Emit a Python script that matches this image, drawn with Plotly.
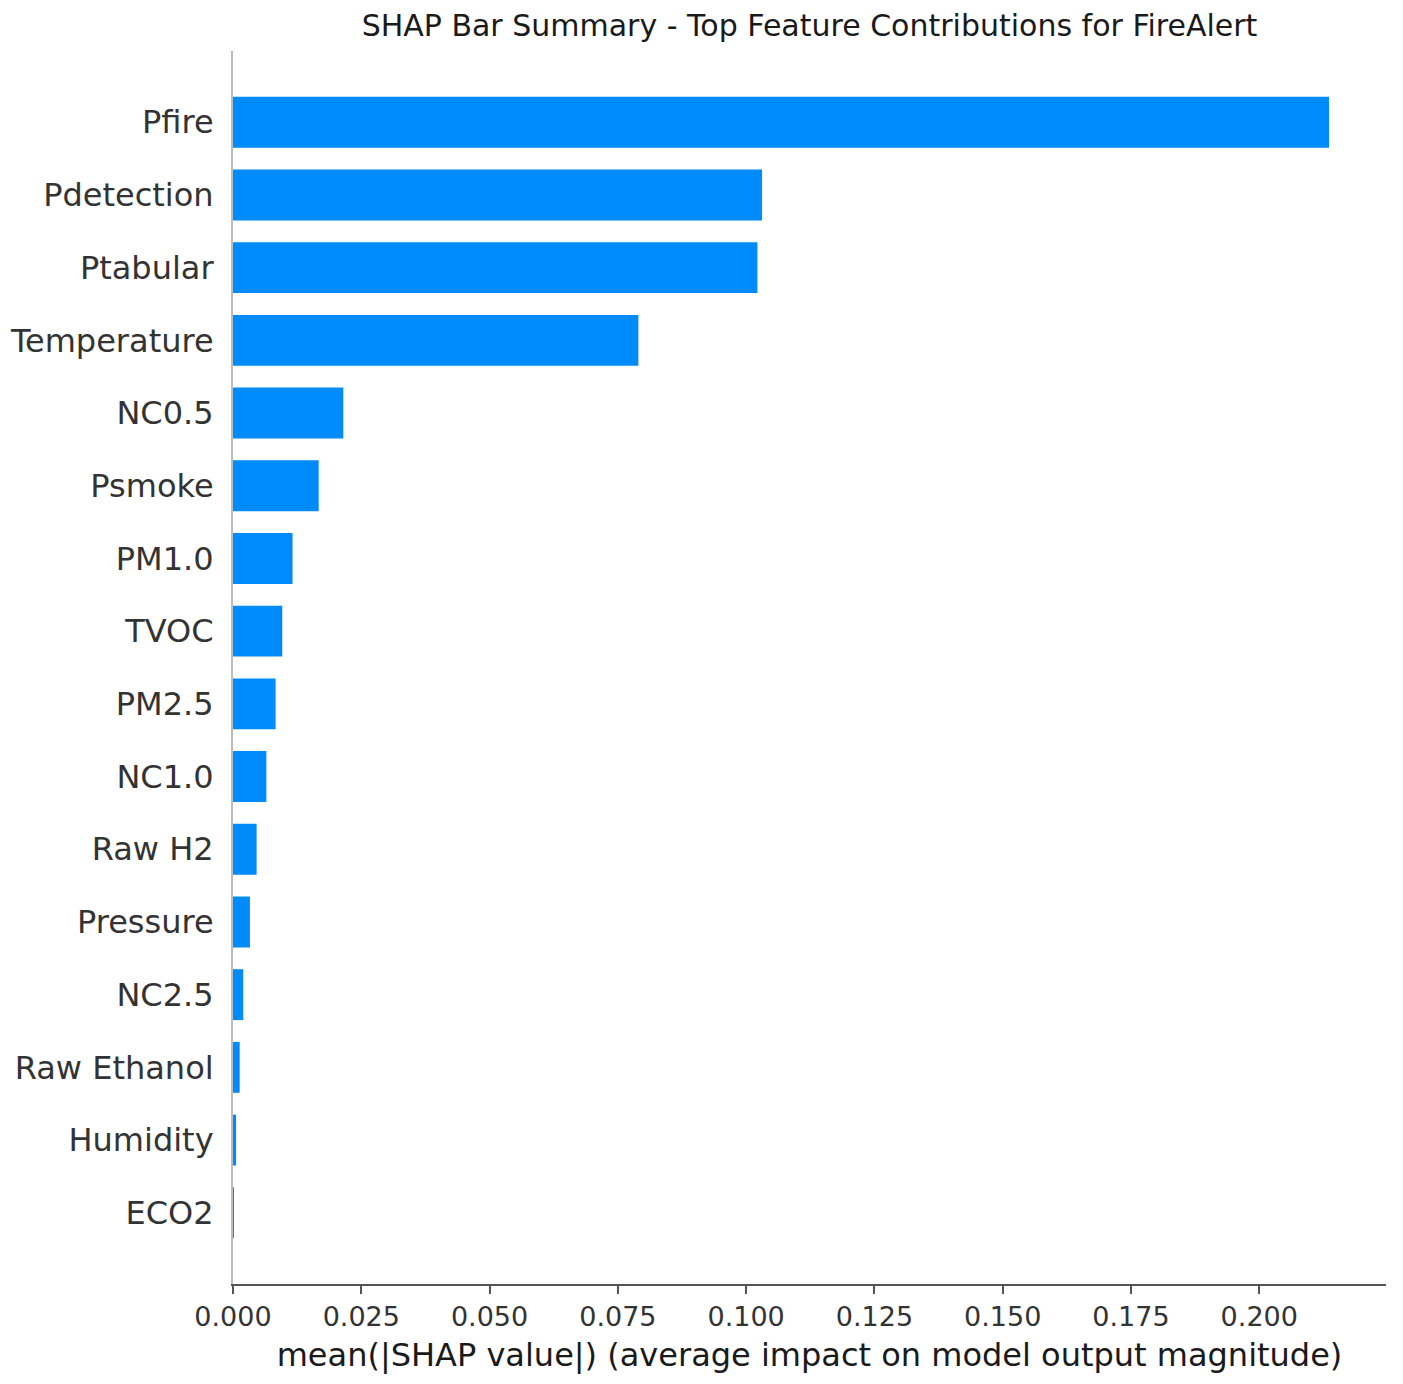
import plotly.graph_objects as go

features = [
    "Pfire", "Pdetection", "Ptabular", "Temperature", "NC0.5", "Psmoke",
    "PM1.0", "TVOC", "PM2.5", "NC1.0", "Raw H2", "Pressure", "NC2.5",
    "Raw Ethanol", "Humidity", "ECO2",
]
mean_abs_shap = [
    0.2136, 0.1031, 0.1022, 0.0790, 0.0215, 0.0167,
    0.0116, 0.0096, 0.0083, 0.0065, 0.0046, 0.0033, 0.0020,
    0.0013, 0.0006, 0.0001,
]
x_ticks = [0.0, 0.025, 0.05, 0.075, 0.1, 0.125, 0.15, 0.175, 0.2]
x_tick_text = ["0.000", "0.025", "0.050", "0.075", "0.100", "0.125", "0.150", "0.175", "0.200"]

FONT = "DejaVu Sans"
BLUE = "#008bfb"

# bottom feature first so Pfire ends up on top
order = features[::-1]

fig = go.Figure(
    go.Bar(
        x=mean_abs_shap,
        y=features,
        orientation="h",
        width=0.7,
        marker=dict(color=BLUE, line=dict(width=0)),
    )
)

# page body has an 8px margin, so margins are shifted to compensate
fig.update_layout(
    width=1403,
    height=1384,
    paper_bgcolor="white",
    plot_bgcolor="white",
    margin=dict(l=225, r=25, t=43, b=108),
    showlegend=False,
    title=dict(
        text="SHAP Bar Summary - Top Feature Contributions for FireAlert",
        x=0.5,
        xref="paper",
        xanchor="center",
        y=1 - 17 / 1384,
        yref="container",
        yanchor="middle",
        font=dict(family=FONT, size=30, color="#1a1a1a"),
    ),
    font=dict(family=FONT, color="#333333"),
)

fig.update_xaxes(
    range=[0, 0.2247],
    tickvals=x_ticks,
    ticktext=x_tick_text,
    automargin=False,
    showgrid=False,
    zeroline=False,
    showline=True,
    linecolor="#555555",
    linewidth=2,
    ticks="outside",
    ticklen=8,
    tickwidth=1.5,
    tickcolor="#555555",
    tickfont=dict(family=FONT, size=27, color="#333333"),
    title=dict(
        text="mean(|SHAP value|) (average impact on model output magnitude)",
        font=dict(family=FONT, size=32, color="#1a1a1a"),
        standoff=12,
    ),
)

fig.update_yaxes(
    type="category",
    categoryorder="array",
    categoryarray=order,
    range=[-0.98, len(features) - 1 + 0.98],
    automargin=False,
    showgrid=False,
    zeroline=False,
    showline=True,
    linecolor="#bbbbbb",
    linewidth=2,
    ticks="",
    ticklabelstandoff=11,
    tickfont=dict(family=FONT, size=32, color="#333333"),
)

fig.write_html("out.html")
